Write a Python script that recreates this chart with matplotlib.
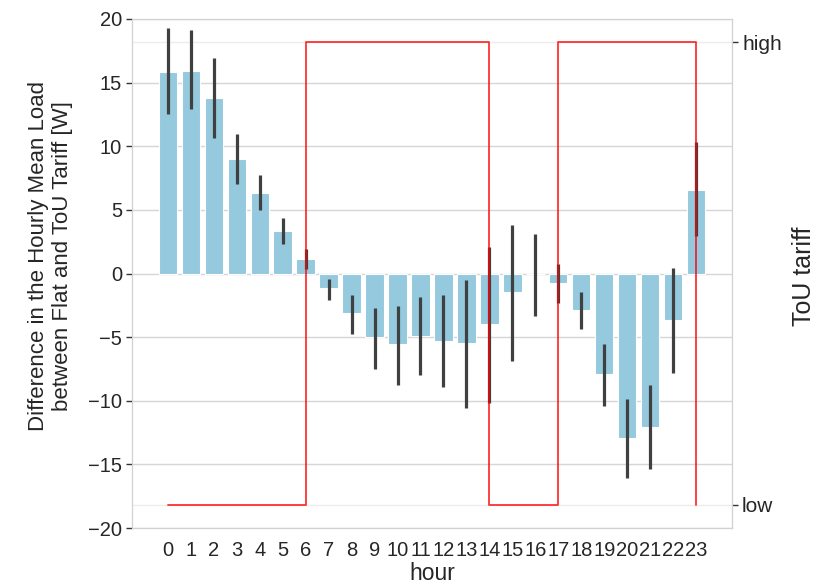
import matplotlib
matplotlib.use("Agg")
import matplotlib.pyplot as plt
import seaborn as sns
import numpy as np

hours = list(range(24))
mean_diff = [15.83, 15.9, 13.76, 9.0, 6.32, 3.34, 1.11, -1.14, -3.13, -4.99, -5.56, -4.88,
             -5.28, -5.49, -3.97, -1.45, -0.05, -0.72, -2.89, -7.89, -12.9, -12.03, -3.63, 6.6]
ci_high = [19.3, 19.1, 16.9, 11.0, 7.76, 4.36, 1.95, -0.4, -1.72, -2.74, -2.55, -1.82,
           -1.72, -0.49, 2.1, 3.8, 3.1, 0.77, -1.45, -5.54, -9.89, -8.78, 0.43, 10.3]
ci_low = [12.5, 12.9, 10.67, 7.03, 4.99, 2.32, 0.33, -2.08, -4.75, -7.48, -8.74, -8.0,
          -8.89, -10.57, -10.15, -6.85, -3.34, -2.29, -4.34, -10.41, -16.06, -15.38, -7.84, 2.96]
tariff = [0, 0, 0, 0, 0, 0, 1, 1, 1, 1, 1, 1, 1, 1, 0, 0, 0, 1, 1, 1, 1, 1, 1, 0]
tariff_labels = ["low", "high"]

sns.set_style("whitegrid", {"axes.edgecolor": ".82"})
plt.rcParams['font.family'] = ['Liberation Sans', 'DejaVu Sans']

fig, ax = plt.subplots(figsize=(8.28, 5.86), dpi=100)
fig.subplots_adjust(left=132 / 828, right=731.7 / 828, top=1 - 19 / 586, bottom=1 - 528 / 586)

ax2 = ax.twinx()
# twin axis (tariff scale + its grid) drawn underneath the bars
ax2.set_zorder(ax.get_zorder() - 1)
ax.patch.set_visible(False)
ax2.patch.set_visible(True)
ax2.patch.set_facecolor('white')

x = np.arange(len(hours))
m = np.array(mean_diff)
yerr = np.vstack([m - np.array(ci_low), np.array(ci_high) - m])
bar_color = sns.desaturate("skyblue", 0.75)
ax.bar(x, m, width=0.8, color=bar_color, edgecolor='white', linewidth=0.8, zorder=2)
ax.errorbar(x, m, yerr=yerr, fmt='none', ecolor='#404040', elinewidth=2.3, capsize=0, zorder=3)

ax2.set_ylim(-0.05, 1.05)
ax2.set_yticks([0, 1])
ax2.set_yticklabels(tariff_labels, fontsize=15)
ax2.tick_params(axis='y', length=4.5, width=1, color='#333333', right=True, pad=3)
ax2.grid(axis='y', color='.93', linewidth=1)
ax2.grid(axis='x', visible=False)
ax2.set_ylabel("ToU tariff", fontsize=18)
ax2.yaxis.set_label_coords(1.10, 0.495)

# tariff step line drawn on top, in the tariff axis' data coordinates
ax.plot(x, tariff, drawstyle='steps-post', color='red', alpha=0.8, linewidth=1.3,
        zorder=4, transform=ax2.transData)

ax.set_xlim(-1.56, 24.55)
ax.set_ylim(-20, 20)
ax.set_xticks(x)
ax.set_xticklabels([str(h) for h in hours], fontsize=14.5)
ax.set_yticks(np.arange(-20, 21, 5))
ax.tick_params(axis='y', labelsize=14.5, length=4.2, width=1, color='#333333', left=True, pad=3)
ax.tick_params(axis='x', length=0, pad=9)
ax.set_xlabel("hour", fontsize=16.5, labelpad=2)
ax.set_ylabel("Difference in the Hourly Mean Load\nbetween Flat and ToU Tariff [W]", fontsize=16)
ax.yaxis.set_label_coords(-0.098, 0.534)
ax.grid(axis='x', visible=False)
ax.grid(axis='y', color='.84', linewidth=1)
ax.set_axisbelow(True)

for s in list(ax2.spines.values()) + list(ax.spines.values()):
    s.set_color('.82')

fig.savefig("out.png", dpi=100)
